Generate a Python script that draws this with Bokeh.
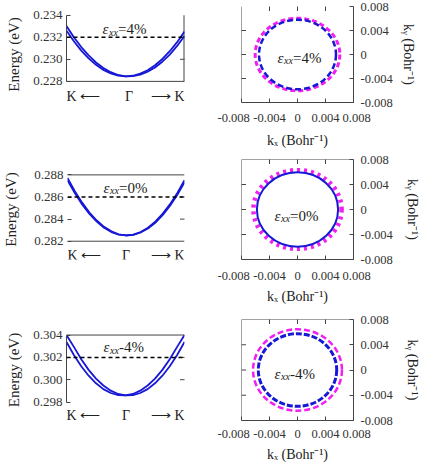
import math
from bokeh.plotting import figure
from bokeh.layouts import column, row
from bokeh.models import LinearAxis, FixedTicker, PrintfTickFormatter, Span, Label, Range1d
from bokeh.embed import file_html
from bokeh.resources import INLINE

FONT = "Liberation Serif"
BLUE = "#1717d6"
MAGENTA = "#f020f0"
AXC = "#444444"
TXT = "#222222"

# ---------------- data ----------------
# k along the K <- Gamma -> K path (fraction of the path)
k_path = [-1.0, -0.875, -0.75, -0.625, -0.5, -0.375, -0.25, -0.125, 0.0,
          0.125, 0.25, 0.375, 0.5, 0.625, 0.75, 0.875, 1.0]

# strain +4 %
band_p4_a = [0.23301, 0.23200, 0.23111, 0.23035, 0.22971, 0.22921, 0.22883, 0.22858, 0.22846,
             0.22847, 0.22861, 0.22887, 0.22926, 0.22978, 0.23043, 0.23121, 0.23211]
band_p4_b = [0.23259, 0.23163, 0.23079, 0.23008, 0.22950, 0.22904, 0.22872, 0.22852, 0.22845,
             0.22851, 0.22870, 0.22901, 0.22946, 0.23003, 0.23073, 0.23155, 0.23251]
# strain 0 %
band_00_a = [0.28772, 0.28653, 0.28549, 0.28460, 0.28387, 0.28330, 0.28289, 0.28263, 0.28252,
             0.28258, 0.28279, 0.28315, 0.28367, 0.28435, 0.28519, 0.28618, 0.28732]
band_00_b = [0.28752, 0.28635, 0.28533, 0.28447, 0.28377, 0.28322, 0.28283, 0.28260, 0.28252,
             0.28260, 0.28283, 0.28322, 0.28377, 0.28447, 0.28533, 0.28635, 0.28752]
# strain -4 %
band_m4_a = [0.30400, 0.30294, 0.30183, 0.30088, 0.30010, 0.29948, 0.29902, 0.29872, 0.29859,
             0.29862, 0.29881, 0.29916, 0.29968, 0.30036, 0.30121, 0.30221, 0.30338]
band_m4_b = [0.30338, 0.30221, 0.30121, 0.30036, 0.29968, 0.29916, 0.29881, 0.29862, 0.29859,
             0.29872, 0.29902, 0.29948, 0.30010, 0.30088, 0.30183, 0.30294, 0.30400]

bands = [(band_p4_a, band_p4_b), (band_00_a, band_00_b), (band_m4_a, band_m4_b)]
fermi_levels = [0.232, 0.286, 0.302]
energy_ranges = [(0.228, 0.234), (0.282, 0.288), (0.298, 0.304)]
energy_ticks = [[0.228, 0.230, 0.232, 0.234],
                [0.282, 0.284, 0.286, 0.288],
                [0.298, 0.300, 0.302, 0.304]]
strain_texts = ["=4%", "=0%", " -4%"]
k_labels = ["K \u27f5", "\u0393", "\u27f6 K"]
energy_title = "Energy (eV)"
kx_title = "k\u2093 (Bohr\u207b\u00b9)"
ky_title = "k\u1d67 (Bohr\u207b\u00b9)"

# Fermi contours (diameters in Bohr^-1)
outer_w = [0.0121, 0.0126, 0.0127]
outer_h = [0.0121, 0.0126, 0.0129]
inner_w = [0.0110, 0.0116, 0.0112]
inner_h = [0.0116, 0.0119, 0.0115]
kspace_lim = (-0.008, 0.008)
kspace_ticks = [-0.008, -0.004, 0.0, 0.004, 0.008]

# ---------------- layout / style ----------------
# each row: figure height, frame top margin, frame height (shared by both panels of the row)
rows_cfg = [dict(h=150, mt=6, fh=100), dict(h=156, mt=9, fh=104), dict(h=158, mt=13, fh=104)]
# energy box inside the left frame: pixels from frame top to box top / box bottom
left_cfg = [
    dict(bt=9, bb=78, eps=(36, 14), ens=8, kpos=[-1, 0.06, 1], kdy=15,
         left=True, right=True, top=False, bottom=True),
    dict(bt=16, bb=85, eps=(36, 13), ens=12, kpos=[-1, 0.0, 1], kdy=14,
         left=False, right=False, top=True, bottom=True),
    dict(bt=16, bb=85, eps=(37, 12), ens=8, kpos=[-1, 0.008, 1], kdy=13,
         left=True, right=False, top=True, bottom=False),
]
k_align = ["left", "center", "right"]
right_cfg = [
    dict(eps=(36, 51), kys=5, kxs=5, xso=8, top=False,
         outer=dict(line_width=3, line_dash="5 3"), inner=dict(line_width=2.5, line_dash="6 3")),
    dict(eps=(33, 56), kys=9, kxs=3, xso=9, top=True,
         outer=dict(line_width=4.5, line_dash="3 4"), inner=dict(line_width=2, line_dash="solid")),
    dict(eps=(33, 54), kys=9, kxs=3, xso=6, top=True,
         outer=dict(line_width=2.5, line_dash="6 3"), inner=dict(line_width=3, line_dash="6 2")),
]
LEFT_W, LEFT_ML, LEFT_FW = 205, 66, 118
RIGHT_W, RIGHT_ML, RIGHT_FW = 218, 36, 112


def txt(p, x, y, text, dx, dy, size, italic=False, align="left", baseline="alphabetic"):
    p.add_layout(Label(x=x, y=y, x_offset=dx, y_offset=dy, text=text, text_font=FONT,
                       text_font_size=size, text_font_style="italic" if italic else "normal",
                       text_color=TXT, text_align=align, text_baseline=baseline))


def axis(ticks, size="13px", line=True, tick=True, standoff=4, fmt="%.3f", overrides=None):
    ax = LinearAxis(ticker=FixedTicker(ticks=ticks), formatter=PrintfTickFormatter(format=fmt))
    ax.axis_line_color = AXC if line else None
    ax.major_tick_line_color = AXC if tick else None
    ax.major_tick_in = 4 if tick else 0
    ax.major_tick_out = 0
    ax.minor_tick_line_color = None
    ax.minor_tick_in = 0
    ax.minor_tick_out = 0
    ax.major_label_text_font = FONT
    ax.major_label_text_font_size = size
    ax.major_label_text_color = "#333333"
    ax.major_label_standoff = standoff
    ax.axis_label_text_font = FONT
    ax.axis_label_text_font_style = "normal"
    ax.axis_label_text_color = TXT
    if overrides:
        ax.major_label_overrides = overrides
    return ax


def edge_ticks(p, xs, ys, vertical):
    p.scatter(x=xs, y=ys, marker="dash", size=9, line_color=AXC, line_width=1,
              angle=math.pi / 2 if vertical else 0.0)


def base_fig(w, ml, fw, rc, xr, yr):
    p = figure(width=w, height=rc["h"], x_range=Range1d(*xr), y_range=Range1d(*yr),
               output_backend="svg", toolbar_location=None, title=None,
               x_axis_location=None, y_axis_location=None,
               min_border_left=ml, min_border_right=w - ml - fw,
               min_border_top=rc["mt"], min_border_bottom=rc["h"] - rc["mt"] - rc["fh"])
    p.grid.visible = False
    p.outline_line_color = None
    p.background_fill_color = "white"
    p.border_fill_color = "white"
    return p


def band_panel(i):
    c = left_cfg[i]
    rc = rows_cfg[i]
    lo, hi = energy_ranges[i]
    per_px = (hi - lo) / (c["bb"] - c["bt"])
    y_top = hi + c["bt"] * per_px
    y_bot = lo - (rc["fh"] - c["bb"]) * per_px
    p = base_fig(LEFT_W, LEFT_ML, LEFT_FW, rc, (-1, 1), (y_bot, y_top))

    ya = axis(energy_ticks[i], line=c["left"])
    ya.bounds = (lo, hi)
    ya.axis_label = energy_title
    ya.axis_label_text_font_size = "15px"
    ya.axis_label_standoff = c["ens"]
    p.add_layout(ya, "left")
    if c["right"]:
        p.segment(x0=[1], y0=[lo], x1=[1], y1=[hi], line_color=AXC, line_width=2)
    if c["top"]:
        p.add_layout(Span(location=hi, dimension="width", line_color=AXC, line_width=1))
    if c["bottom"]:
        p.add_layout(Span(location=lo, dimension="width", line_color=AXC, line_width=1))
    inner = energy_ticks[i][1:-1]
    edge_ticks(p, [1] * len(inner), inner, False)

    p.add_layout(Span(location=fermi_levels[i], dimension="width", line_color="black",
                      line_dash="4 3", line_width=1.5))
    a, b = bands[i]
    p.line(k_path, a, line_color=BLUE, line_width=1.8)
    p.line(k_path, b, line_color=BLUE, line_width=1.8)

    ex, ey = c["eps"]
    txt(p, -1, hi, "\u03b5", ex, -ey, "15px", italic=True)
    txt(p, -1, hi, "xx", ex + 6.5, -ey - 3, "10px", italic=True)
    txt(p, -1, hi, strain_texts[i], ex + 15.5, -ey, "15px")

    for xpos, lab, al in zip(c["kpos"], k_labels, k_align):
        txt(p, xpos, lo, lab, 0, -c["kdy"], "14px", align=al, baseline="middle")
    return p


def contour_panel(i):
    c = right_cfg[i]
    rc = rows_cfg[i]
    lo, hi = kspace_lim
    p = base_fig(RIGHT_W, RIGHT_ML, RIGHT_FW, rc, kspace_lim, kspace_lim)
    pad = "\u00a0" * 5
    xo = {kspace_ticks[0]: "-0.008" + pad, 0.0: "0", kspace_ticks[-1]: "\u00a0\u00a0" + "0.008"}
    xa = axis(kspace_ticks, size="12.5px", standoff=c["xso"], overrides=xo)
    xa.axis_label = kx_title
    xa.axis_label_text_font_size = "14px"
    xa.axis_label_standoff = c["kxs"]
    p.add_layout(xa, "below")
    ra = axis(kspace_ticks, size="12.5px", standoff=7, overrides={0.0: "0"})
    ra.axis_label = ky_title
    ra.axis_label_text_font_size = "14px"
    ra.axis_label_standoff = c["kys"]
    p.add_layout(ra, "right")
    p.add_layout(Span(location=lo, dimension="height", line_color=AXC, line_width=1))
    if c["top"]:
        p.add_layout(Span(location=hi, dimension="width", line_color=AXC, line_width=1))
    inner = kspace_ticks[1:-1]
    edge_ticks(p, [lo] * len(inner), inner, False)
    edge_ticks(p, inner, [hi] * len(inner), True)

    p.ellipse(x=[0.0], y=[0.0], width=[outer_w[i]], height=[outer_h[i]], fill_color=None,
              line_color=MAGENTA, **c["outer"])
    p.ellipse(x=[0.0], y=[0.0], width=[inner_w[i]], height=[inner_h[i]], fill_color=None,
              line_color=BLUE, **c["inner"])

    ex, ey = c["eps"]
    txt(p, lo, hi, "\u03b5", ex, -ey, "15px", italic=True)
    txt(p, lo, hi, "xx", ex + 6.5, -ey - 3, "10px", italic=True)
    txt(p, lo, hi, strain_texts[i], ex + 15.5, -ey, "15px")
    return p


layout = column(
    row(band_panel(0), contour_panel(0)),
    row(band_panel(1), contour_panel(1)),
    row(band_panel(2), contour_panel(2)),
)

open("out.html", "w").write(file_html(layout, INLINE))
